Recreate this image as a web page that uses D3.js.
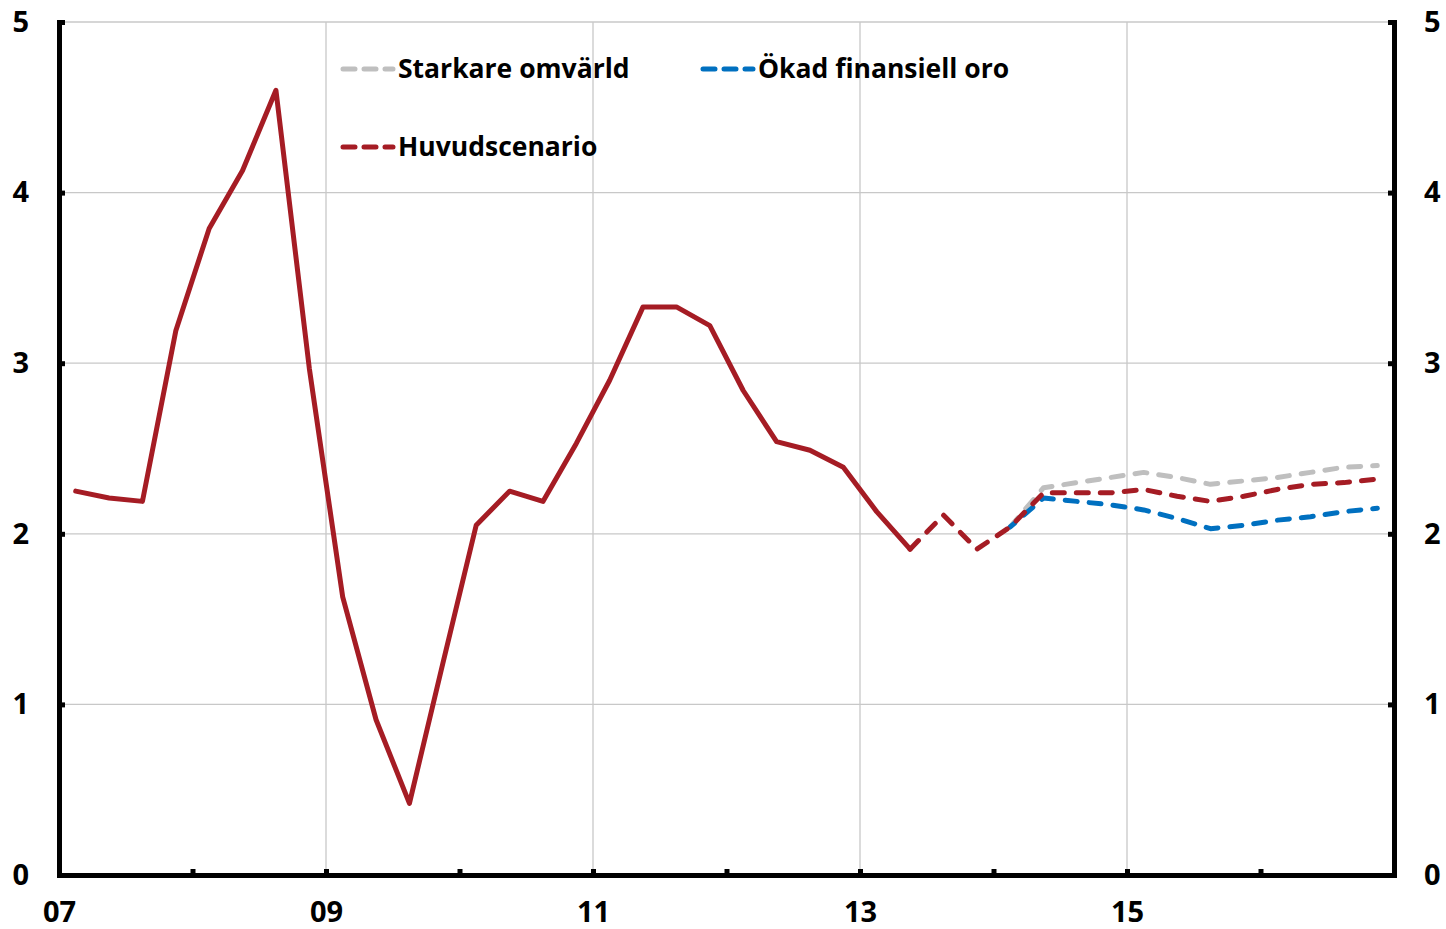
<!DOCTYPE html>
<html><head><meta charset="utf-8">
<script src="https://cdn.jsdelivr.net/npm/d3@7"></script>
<style>
html,body{margin:0;padding:0;background:#fff;}
text{font-family:"Open Sans","Noto Sans",sans-serif;font-weight:700;fill:#000;}
</style></head><body>
<svg id="c" width="1446" height="929"></svg>
<script>
// Quarterly data, 2007Q1 .. 2016Q4
const actualStart = [2007, 1];
const actual = [2.25,2.21,2.19,3.19, 3.79,4.13,4.60,2.97, 1.63,0.91,0.42,1.24,
                2.05,2.25,2.19,2.53, 2.90,3.33,3.33,3.22, 2.84,2.54,2.49,2.39, 2.13,1.91];
const mainStart = [2013, 2];
const huvudscenario = [1.91,2.11,1.91,2.04, 2.24,2.24,2.24,2.26, 2.22,2.19,2.22,2.26, 2.29,2.30,2.32];
const scenStart = [2014, 1];
const starkare = [2.04, 2.27,2.30,2.33,2.36, 2.33,2.29,2.31,2.33, 2.36,2.39,2.40];
const okad     = [2.04, 2.21,2.19,2.17,2.14, 2.09,2.03,2.05,2.08, 2.10,2.13,2.15];
const yTicks = [0,1,2,3,4,5];
const xLabelYears = [2007,2009,2011,2013,2015];
const xMinorYears = [2008,2010,2012,2014,2016];
const legendItems = [
  {name:"Starkare omvärld", color:"#BFBFBF"},
  {name:"Ökad finansiell oro", color:"#0070C0"},
  {name:"Huvudscenario", color:"#A51C24"}
];

const svg = d3.select("#c");
const L = 59, R = 1394, T = 22, B = 875;
const x = d3.scaleLinear().domain([2007, 2017]).range([L, R]);
const y = d3.scaleLinear().domain([0, 5]).range([B, T]);

function toPts(start, arr){
  return arr.map((v,i)=>{
    const q = (start[1]-1) + i;
    return {t: start[0] + q*0.25 + 0.125, v};
  });
}
const line = d3.line().x(d=>x(d.t)).y(d=>y(d.v));

// gridlines
const grid = svg.append("g");
grid.selectAll("line.h").data(yTicks.filter(d=>d>0)).join("line")
  .attr("x1", L).attr("x2", R).attr("y1", d=>y(d)).attr("y2", d=>y(d))
  .attr("stroke", "#C8C8C8").attr("stroke-width", 1.3);
grid.selectAll("line.v").data(xLabelYears.filter(d=>d>2007)).join("line")
  .attr("x1", d=>x(d)).attr("x2", d=>x(d)).attr("y1", T).attr("y2", B)
  .attr("stroke", "#C8C8C8").attr("stroke-width", 1.3);

// axes
const yAxisL = d3.axisLeft(y).tickValues(yTicks).tickSize(-6).tickPadding(30).tickFormat(d3.format("d"));
const yAxisR = d3.axisRight(y).tickValues(yTicks).tickSize(-6).tickPadding(30).tickFormat(d3.format("d"));
const xAxis = d3.axisBottom(x).tickValues(xLabelYears.concat(xMinorYears)).tickSize(-6).tickPadding(26)
  .tickFormat(d=> xLabelYears.includes(d) ? String(d).slice(2) : "");

function styleAxis(g){
  g.select(".domain").attr("stroke","#000").attr("stroke-width",5);
  g.selectAll(".tick line").attr("stroke","#000").attr("stroke-width",5);
  g.selectAll(".tick text").style("font-size","29px").style("font-family",'"Open Sans","Noto Sans",sans-serif').style("font-weight","700");
}
svg.append("g").attr("transform",`translate(${L},0)`).call(yAxisL).call(styleAxis);
svg.append("g").attr("transform",`translate(${R},0)`).call(yAxisR).call(styleAxis);
svg.append("g").attr("transform",`translate(0,${B})`).call(xAxis).call(styleAxis);

// lines
const dash = "12,12";
const drawLine = (data, color, dashed) => svg.append("path").datum(data)
  .attr("d", line).attr("fill","none").attr("stroke", color).attr("stroke-width", 5)
  .attr("stroke-linecap","round").attr("stroke-linejoin","round")
  .attr("stroke-dasharray", dashed ? dash : null);

drawLine(toPts(scenStart, starkare), "#BFBFBF", true);
drawLine(toPts(scenStart, okad), "#0070C0", true).attr("stroke-dashoffset", 6);
drawLine(toPts(mainStart, huvudscenario), "#A51C24", true);
drawLine(toPts(actualStart, actual), "#A51C24", false);

// legend
const legPos = [[341,69],[701,69],[341,147]];
legendItems.forEach((it,i)=>{
  const [lx,ly] = legPos[i];
  const g = svg.append("g").attr("transform",`translate(${lx},${ly})`);
  g.append("line").attr("x1",2).attr("x2",52).attr("y1",0).attr("y2",0)
    .attr("stroke",it.color).attr("stroke-width",5).attr("stroke-linecap","round")
    .attr("stroke-dasharray","12,9");
  g.append("text").attr("x",57).attr("y",0).attr("dy","0.35em").style("font-size","26.5px").text(it.name);
});
</script>
</body></html>
